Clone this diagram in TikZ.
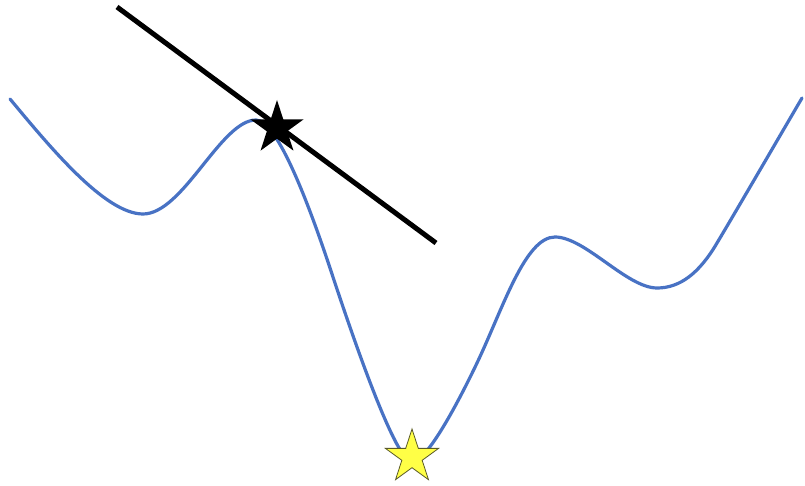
\documentclass[tikz,border=0pt]{standalone}
\usetikzlibrary{shapes.geometric}
\definecolor{curveblue}{RGB}{72,114,196}
\definecolor{staryellow}{RGB}{255,255,70}
\definecolor{staredge}{RGB}{90,90,40}
\tikzset{
  landscape/.style={curveblue, line width=3.2pt, line cap=round, line join=round},
  tangent/.style={black, line width=5pt},
  starmark/.style={star, star points=5, star point ratio=2.618, minimum size=56pt, inner sep=0pt}
}
\begin{document}
\begin{tikzpicture}[x=1pt,y=-1pt]
\useasboundingbox (0,0) rectangle (805,486);
\fill[white] (0,0) rectangle (805,486);
\draw[landscape]
  (10,99) .. controls (50,147) and (105,214) .. (143,214)
  .. controls (183,214) and (221,120) .. (256,120)
  .. controls (278,120) and (311,211) .. (330,268)
  .. controls (355,344) and (396,462) .. (412,462)
  .. controls (426,462) and (455.5,408) .. (477,363)
  .. controls (502.8,308.8) and (525,237) .. (555,237)
  .. controls (585,237) and (627,288) .. (657,288)
  .. controls (680,288) and (699.3,273.2) .. (717,243)
  .. controls (735,213) and (786.8,123.9) .. (802,98);
\coordinate (lineA) at (117,7);
\coordinate (lineB) at (436,243);
\draw[tangent] (lineA) -- (lineB);
\node[starmark, fill=black] (current) at (277,128) {};
\node[starmark, fill=staryellow, draw=staredge, line width=0.8pt] (optimum) at (412,457) {};
\end{tikzpicture}
\end{document}
